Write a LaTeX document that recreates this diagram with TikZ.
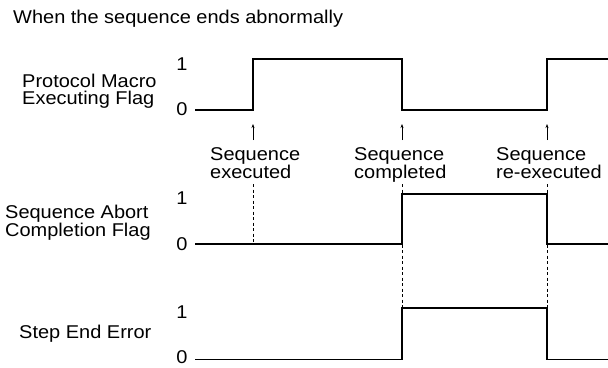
\documentclass[tikz,border=0pt]{standalone}
\usepackage{fontspec}
\setmainfont[FakeStretch=1.08]{Liberation Sans}
\usetikzlibrary{arrows.meta}
\begin{document}
\begin{tikzpicture}[x=1pt,y=-1pt,
  lbl/.style={inner sep=0pt,font=\fontsize{18.5}{16.8}\selectfont},
  multilbl/.style={lbl,align=left,anchor=north west},
  lvl/.style={lbl,anchor=center},
  wave/.style={line width=1.1pt,line join=miter},
  guide/.style={line width=0.7pt,dash pattern=on 3pt off 2.5pt},
  pointer/.style={line width=0.6pt,-{Stealth[length=4pt,width=3pt]}}]
\useasboundingbox (0,0) rectangle (608,367);
% title
\node[lbl,anchor=base west] (title) at (13,23.5) {When the sequence ends abnormally};
% signal names
\node[multilbl] (n1) at (22,74) {Protocol Macro\\Executing Flag};
\node[multilbl] (n2) at (5,205) {Sequence Abort\\Completion Flag};
\node[lbl,anchor=base west] (n3) at (19,338) {Step End Error};
% level labels
\node[lvl] (h1) at (182,64) {1};
\node[lvl] (l1) at (182,109.5) {0};
\node[lvl] (h2) at (182,198) {1};
\node[lvl] (l2) at (182,244.5) {0};
\node[lvl] (h3) at (182,312) {1};
\node[lvl] (l3) at (182,357.3) {0};
% event labels
\node[multilbl] (e1) at (210,147.3) {Sequence\\executed};
\node[multilbl] (e2) at (354,147.3) {Sequence\\completed};
\node[multilbl] (e3) at (496,147.3) {Sequence\\re-executed};
% event coordinates
\coordinate (a1b) at (253,140); \coordinate (a1t) at (253,124);
\coordinate (a2b) at (402,140); \coordinate (a2t) at (402,124);
\coordinate (a3b) at (547,140); \coordinate (a3t) at (547,124);
\coordinate (d1t) at (253,184); \coordinate (d1b) at (253,244);
\coordinate (d2t) at (402,184); \coordinate (d2b) at (402,308);
\coordinate (d3t) at (547,184); \coordinate (d3b) at (547,308);
% guides
\draw[guide] (d1t) -- (d1b);
\draw[guide] (d2t) -- (d2b);
\draw[guide] (d3t) -- (d3b);
% pointers
\draw[pointer] (a1b) -- (a1t);
\draw[pointer] (a2b) -- (a2t);
\draw[pointer] (a3b) -- (a3t);
% waveforms
\draw[wave] (195,110) -- (253,110) -- (253,59) -- (402,59) -- (402,110) -- (547,110) -- (547,59) -- (608,59);
\draw[wave] (195,244) -- (402,244) -- (402,194) -- (547,194) -- (547,244) -- (608,244);
\draw[wave] (195,359.5) -- (402,359.5) -- (402,308) -- (547,308) -- (547,359.5) -- (608,359.5);
\end{tikzpicture}
\end{document}
